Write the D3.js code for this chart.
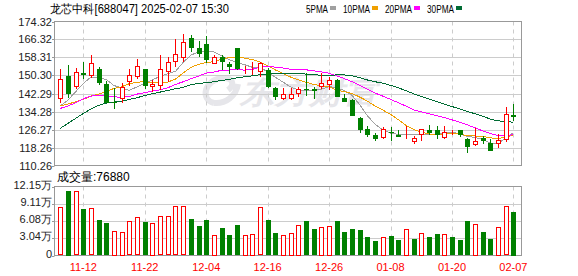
<!DOCTYPE html>
<html>
<head>
<meta charset="utf-8">
<script src="https://cdn.jsdelivr.net/npm/d3@7"></script>
<style>
  body { margin: 0; background: #fff; }
  svg { display: block; }
  text { font-family: "Liberation Sans", Arial, sans-serif; }
</style>
</head>
<body>
<svg id="chart" width="578" height="276"></svg>
<script>
// trading days shown on the chart
const dates = ["11-07","11-08","11-11","11-12","11-13","11-14","11-15","11-18","11-19","11-20",
  "11-21","11-22","11-25","11-26","11-27","11-28","11-29","12-02","12-03","12-04",
  "12-05","12-06","12-09","12-10","12-11","12-12","12-13","12-16","12-17","12-18",
  "12-19","12-20","12-23","12-24","12-25","12-26","12-27","12-30","12-31","01-02",
  "01-03","01-06","01-07","01-08","01-09","01-10","01-13","01-14","01-15","01-16",
  "01-17","01-20","01-21","01-22","01-23","01-24","01-27","02-05","02-06","02-07"];

const open = [139.66,150.03,144.99,151.36,149.73,152.99,146.47,138.6,139.66,147.07,
  149.43,152.99,144.85,145.59,151.65,156.39,158.31,167.19,162.31,164.53,
  155.65,158.61,155.5,162.46,152.39,152.69,151.51,152.69,144.85,139.66,
  139.66,142.04,144.26,144.4,145.29,145.88,148.25,140.26,139.37,131.23,
  126.35,123.83,122.5,125.31,123.98,122.5,120.73,123.83,126.05,126.05,
  122.79,124.13,126.05,122.05,119.39,122.35,120.43,119.84,121.31,132.56];
const high = [152.99,154.91,153.43,156.24,159.35,153.87,147.81,144.55,146.77,152.99,
  157.57,153.28,148.25,159.35,158.31,166.75,168.97,168.38,165.71,167.93,
  159.5,159.5,156.24,162.46,154.47,156.09,156.24,153.43,145.29,144.7,
  144.55,145.0,151.21,145.29,151.51,149.43,148.69,142.04,139.66,131.97,
  127.83,124.57,127.24,127.24,126.05,127.83,123.39,126.5,128.27,127.83,
  127.83,126.05,126.05,122.35,126.79,123.39,121.91,124.28,136.41,137.59];
const low = [138.19,140.41,144.5,148.84,149.3,145.88,137.89,135.52,137.89,145.59,
  148.84,144.4,143.07,143.81,147.51,154.17,156.39,160.83,158.61,155.65,
  155.21,152.69,150.77,152.69,150.77,150.62,149.73,144.85,139.37,139.37,
  139.52,140.85,141.15,139.66,144.11,143.81,140.85,138.63,132.27,124.57,
  122.79,121.31,121.91,121.31,122.79,122.2,119.84,121.31,123.83,121.91,
  121.91,123.68,122.79,115.99,118.95,119.84,116.87,117.91,120.87,130.2];
const close = [148.55,142.18,151.65,150.32,155.65,146.62,138.04,138.4,145.14,150.32,
  154.32,145.59,146.33,152.99,156.09,159.79,165.42,162.61,159.65,157.57,
  158.61,156.54,154.32,152.99,152.99,152.99,155.65,145.29,140.85,142.04,
  142.04,144.11,143.96,143.52,147.07,148.25,140.85,138.63,132.42,126.05,
  123.83,122.05,126.35,125.01,123.09,123.09,122.5,126.35,124.57,123.98,
  125.31,124.57,123.68,118.65,121.31,120.87,116.87,121.61,133.01,131.82];

const volume = [84800,113800,113200,81800,83000,62200,56900,43900,42100,59900,
  67000,58700,58100,68700,68700,86500,86500,64000,51600,62200,
  36700,48000,35600,53300,36700,38500,84800,62200,39100,36700,
  40300,54500,60400,46200,51000,52700,60400,40900,46200,44400,
  32000,24900,33200,33800,26700,47400,28400,40300,32000,37300,
  38500,32000,26700,60400,56300,40900,28400,51000,86500,76880];

// moving averages
const ma5 = [136.71,139.37,143.07,146.77,149.67,149.28,148.46,145.81,144.77,143.7,
  145.24,146.75,148.34,149.91,151.06,152.16,156.12,159.38,160.71,161.01,
  160.77,159.0,157.34,156.0,155.09,153.97,153.79,151.98,149.55,147.36,
  145.17,143.8,143.5,143.6,144.14,145.38,144.73,143.66,141.44,137.24,
  132.36,128.6,126.14,124.66,124.07,123.92,124.01,124.01,123.92,124.1,
  124.54,124.96,124.42,123.24,122.7,121.82,120.28,119.86,122.73,124.84];
const ma10 = [136.71,137.59,138.63,139.67,141.15,142.03,143.22,144.55,145.29,146.69,
  147.26,147.61,147.07,147.34,147.38,148.7,151.44,153.86,155.31,156.04,
  156.47,157.56,158.36,158.36,158.05,157.37,156.39,154.66,152.78,151.23,
  149.57,148.33,147.29,146.34,145.75,145.28,143.8,143.13,142.29,140.69,
  138.87,136.66,134.9,133.05,130.65,128.14,126.3,125.07,124.29,124.08,
  124.23,124.48,124.22,123.58,123.4,123.18,122.62,122.14,122.99,123.77];
const ma20 = [135.67,136.71,138.19,139.96,141.15,141.44,141.29,140.85,140.55,141.0,
  142.03,142.63,143.37,143.96,144.85,146.33,147.51,148.84,150.03,151.36,
  151.86,152.58,152.72,152.85,152.72,153.04,153.92,154.26,154.05,153.63,
  153.02,152.94,152.83,152.35,151.9,151.32,150.1,148.9,147.53,145.96,
  144.22,142.5,141.1,139.7,138.2,136.71,135.05,134.1,133.29,132.39,
  131.55,130.57,129.56,128.32,127.03,125.66,124.46,123.61,123.64,123.93];
const ma30 = [126.79,129.01,131.23,133.45,135.37,137.0,138.04,138.48,138.93,139.67,
  140.41,141.44,142.18,142.92,143.66,144.4,145.0,146.18,146.77,147.07,
  147.51,148.1,148.55,149.29,149.73,150.17,150.62,150.91,151.21,151.32,
  151.1,151.16,150.91,150.68,150.4,150.45,150.54,150.55,150.13,149.32,
  148.3,147.52,146.85,145.92,144.82,143.59,142.16,140.96,139.79,138.67,
  137.56,136.49,135.47,134.32,133.27,132.2,130.91,130.12,129.85,129.51];

const priceTicks = [174.32,166.32,158.31,150.30,142.29,134.28,126.27,118.26,110.26];
const volTicks = [121500,91100,60800,30400,0];
const volTickLabels = ["12.15万","9.11万","6.08万","3.04万","0"];
const xTickDates = ["11-12","11-22","12-04","12-16","12-26","01-08","01-20","02-07"];

const maSeries = [
  { name: "5PMA", values: ma5, color: "#a0a0a0", lx: 306, lw: 22 },
  { name: "10PMA", values: ma10, color: "#f0a000", lx: 343, lw: 27 },
  { name: "20PMA", values: ma20, color: "#ff00ff", lx: 385, lw: 27 },
  { name: "30PMA", values: ma30, color: "#006b33", lx: 427, lw: 27 }
];

const UP = "#ff0000", DOWN = "#008000";
const left = 54.5, right = 521.5;
const pTop = 21.5, pBottom = 165.5;
const vTop = 186.5, vBottom = 255.5;

const svg = d3.select("#chart");

const x = d3.scalePoint().domain(dates).range([60.3, 513.4]);
const y = d3.scaleLinear().domain([110.26, 174.32]).range([pBottom, pTop]);
const yv = d3.scaleLinear().domain([0, 121500]).range([vBottom, vTop]);
const px = d => Math.round(x(d)) + 0.5;

// watermark
const wm = svg.append("g").attr("fill", "#e6e6ea");
wm.append("path")
  .attr("d", "M214,103 C200,100 204,80 222,78 C232,77 236,84 228,90 M214,103 C226,104 236,96 238,84")
  .attr("fill", "none").attr("stroke", "#e6e6ea").attr("stroke-width", 6);
wm.append("text")
  .attr("x", 240).attr("y", 103)
  .attr("font-family", "Noto Sans CJK SC").attr("font-weight", "bold")
  .attr("font-size", 30).attr("font-style", "italic")
  .attr("textLength", 138).attr("lengthAdjust", "spacingAndGlyphs")
  .text("东方财富");

// price grid
svg.append("g").selectAll("line")
  .data(priceTicks.slice(1, -1)).enter().append("line")
  .attr("x1", left).attr("x2", right)
  .attr("y1", d => Math.round(y(d)) + 0.5).attr("y2", d => Math.round(y(d)) + 0.5)
  .attr("stroke", "#cccccc");

svg.append("g").selectAll("line")
  .data(volTicks.slice(1, -1)).enter().append("line")
  .attr("x1", left).attr("x2", right)
  .attr("y1", d => Math.round(yv(d)) + 0.5).attr("y2", d => Math.round(yv(d)) + 0.5)
  .attr("stroke", "#cccccc");

// vertical dashed lines
[[pTop, pBottom], [vTop, vBottom]].forEach(([a, b]) => {
  svg.append("g").selectAll("line")
    .data(xTickDates).enter().append("line")
    .attr("x1", px).attr("x2", px)
    .attr("y1", a).attr("y2", b)
    .attr("stroke", "#cccccc").attr("stroke-dasharray", "4,4");
});

// watermark sits under lines, grids drawn; now frames
[[pTop, pBottom], [vTop, vBottom]].forEach(([a, b]) => {
  svg.append("rect")
    .attr("x", left).attr("y", a).attr("width", right - left).attr("height", b - a)
    .attr("fill", "none").attr("stroke", "#999999");
});

// y axis labels and ticks
const yAxis = svg.append("g");
yAxis.selectAll("text").data(priceTicks).enter().append("text")
  .attr("x", 52).attr("y", d => y(d) + 4)
  .attr("text-anchor", "end").attr("font-size", 11).attr("fill", "#222")
  .text(d => d.toFixed(2));
yAxis.selectAll("line").data(priceTicks).enter().append("line")
  .attr("x1", 52).attr("x2", left)
  .attr("y1", d => Math.round(y(d)) + 0.5).attr("y2", d => Math.round(y(d)) + 0.5)
  .attr("stroke", "#999");

const vAxis = svg.append("g");
vAxis.selectAll("text").data(volTicks).enter().append("text")
  .attr("x", 52).attr("y", (d, i) => yv(d) + (i === volTicks.length - 1 ? 2 : 2))
  .attr("text-anchor", "end").attr("font-size", 11).attr("fill", "#222")
  .attr("font-family", "Noto Sans CJK SC, Liberation Sans")
  .text((d, i) => volTickLabels[i]);
vAxis.selectAll("line").data(volTicks).enter().append("line")
  .attr("x1", 52).attr("x2", left)
  .attr("y1", d => Math.round(yv(d)) + 0.5).attr("y2", d => Math.round(yv(d)) + 0.5)
  .attr("stroke", "#999");

// x labels
svg.append("g").selectAll("text").data(xTickDates).enter().append("text")
  .attr("x", d => x(d)).attr("y", 271)
  .attr("text-anchor", "middle").attr("font-size", 11).attr("fill", "#ff0000")
  .text(d => d);

// moving average lines
const line = vals => d3.line().x((d, i) => x(dates[i])).y(d => y(d))(vals);
svg.append("g").selectAll("path").data(maSeries).enter().append("path")
  .attr("d", d => line(d.values))
  .attr("fill", "none").attr("stroke", d => d.color).attr("stroke-width", 1)
  .attr("shape-rendering", "crispEdges");

// candles
const idx = d3.range(dates.length);
const candles = svg.append("g").selectAll("g").data(idx).enter().append("g");
const isUp = i => close[i] >= open[i];
candles.append("line")
  .attr("x1", i => px(dates[i])).attr("x2", i => px(dates[i]))
  .attr("y1", i => Math.round(y(high[i]))).attr("y2", i => Math.round(y(low[i])))
  .attr("stroke", i => isUp(i) ? UP : DOWN);
candles.append("rect")
  .attr("x", i => isUp(i) ? px(dates[i]) - 2 : px(dates[i]) - 2.5)
  .attr("y", i => {
    const t = Math.round(y(Math.max(open[i], close[i])));
    return isUp(i) ? t + 0.5 : t;
  })
  .attr("width", i => isUp(i) ? 4 : 5)
  .attr("height", i => {
    const h = Math.max(1, Math.round(Math.abs(y(open[i]) - y(close[i]))));
    return isUp(i) ? Math.max(0, h - 1) : h;
  })
  .attr("fill", i => isUp(i) ? "#fff" : DOWN)
  .attr("stroke", i => isUp(i) ? UP : "none")
  .attr("shape-rendering", "crispEdges");

// volume bars, coloured against the previous close
const volUp = i => i === 0 ? isUp(0) : close[i] >= close[i - 1];
svg.append("g").selectAll("rect").data(idx).enter().append("rect")
  .attr("x", i => volUp(i) ? px(dates[i]) - 2 : px(dates[i]) - 2.5)
  .attr("y", i => Math.round(yv(volume[i])) + (volUp(i) ? 0.5 : 0))
  .attr("width", i => volUp(i) ? 4 : 5)
  .attr("height", i => Math.round(vBottom - yv(volume[i])) - (volUp(i) ? 1 : 0))
  .attr("fill", i => volUp(i) ? "#fff" : DOWN)
  .attr("stroke", i => volUp(i) ? UP : "none")
  .attr("shape-rendering", "crispEdges");

// title and legend
svg.append("text")
  .attr("x", 50).attr("y", 13).attr("font-size", 12).attr("fill", "#000")
  .attr("font-family", "Noto Sans CJK SC")
  .attr("textLength", 179).attr("lengthAdjust", "spacingAndGlyphs")
  .text("龙芯中科[688047] 2025-02-07 15:30");

const leg = svg.append("g").selectAll("g").data(maSeries).enter().append("g");
leg.append("text")
  .attr("x", d => d.lx).attr("y", 13).attr("font-size", 11).attr("fill", "#000")
  .attr("textLength", d => d.lw).attr("lengthAdjust", "spacingAndGlyphs")
  .text(d => d.name);
leg.append("rect")
  .attr("x", d => d.lx + d.lw + 2).attr("y", 6).attr("width", 6).attr("height", 4)
  .attr("fill", d => d.color);

svg.append("text")
  .attr("x", 57).attr("y", 181).attr("font-size", 12).attr("fill", "#000")
  .attr("font-family", "Noto Sans CJK SC")
  .text("成交量:" + volume[volume.length - 1]);
</script>
</body>
</html>
